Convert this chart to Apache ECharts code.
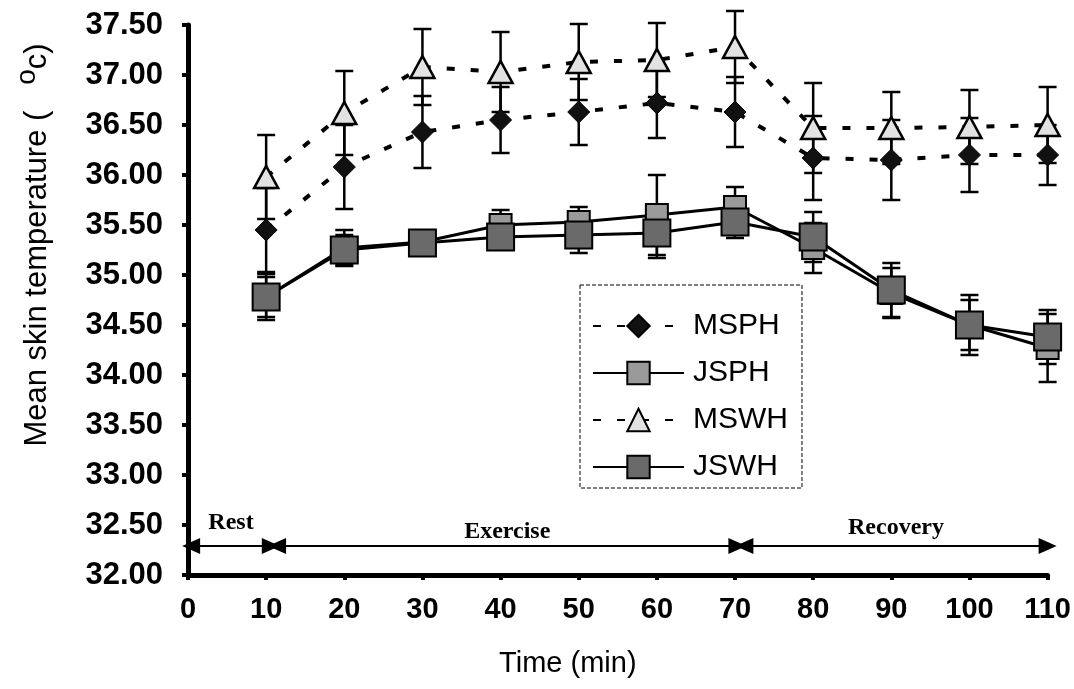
<!DOCTYPE html>
<html><head><meta charset="utf-8">
<script src="https://cdn.jsdelivr.net/npm/echarts@6/dist/echarts.min.js"></script>
<style>html,body{margin:0;padding:0;background:#fff}#c{width:1074px;height:689px}</style>
</head><body><div id="c"></div>
<script>
// ---- data ----
const times = [10, 20, 30, 40, 50, 60, 70, 80, 90, 100, 110];
const msph = [35.45, 36.08, 36.43, 36.55, 36.63, 36.72, 36.63, 36.17, 36.15, 36.20, 36.20];
const msphErr = [0.42, 0.42, 0.36, 0.33, 0.33, 0.35, 0.35, 0.42, 0.40, 0.37, 0.30];
const jsph = [34.78, 35.27, 35.33, 35.50, 35.53, 35.60, 35.68, 35.27, 34.82, 34.50, 34.27];
const jsphErr = [0.23, 0.18, 0.08, 0.15, 0.15, 0.40, 0.20, 0.25, 0.25, 0.25, 0.34];
const mswh = [35.98, 36.62, 37.08, 37.03, 37.13, 37.15, 37.28, 36.47, 36.47, 36.48, 36.50];
const mswhErr = [0.42, 0.42, 0.38, 0.40, 0.38, 0.37, 0.36, 0.45, 0.36, 0.37, 0.38];
const jswh = [34.78, 35.25, 35.32, 35.38, 35.40, 35.42, 35.53, 35.38, 34.85, 34.50, 34.38];
const jswhErr = [0.20, 0.15, 0.08, 0.12, 0.18, 0.25, 0.16, 0.25, 0.27, 0.30, 0.27];
const seriesNames = ['MSPH', 'JSPH', 'MSWH', 'JSWH'];
const phaseNames = ['Rest', 'Exercise', 'Recovery'];
const phaseStart = [0.4, 11.4, 71.2];
const phaseEnd = [10.6, 70.3, 110];
const phaseY = 32.29;
const yMin = 32, yMax = 37.5, yStep = 0.5;
const xMin = 0, xMax = 110, xStep = 10;

// ---- chart ----
const chart = echarts.init(document.getElementById('c'), null, {renderer: 'canvas'});
function pts(vals) { return times.map((t, i) => [t, vals[i]]); }
function errSeries(vals, errs) {
  return {
    type: 'custom', z: 1, silent: true,
    data: times.map((t, i) => [t, vals[i] - errs[i], vals[i] + errs[i]]),
    encode: {x: 0, y: [1, 2]},
    renderItem(params, api) {
      const x = api.value(0);
      const lo = api.coord([x, api.value(1)]);
      const hi = api.coord([x, api.value(2)]);
      const w = 9;
      const style = {stroke: '#000', lineWidth: 2.5, fill: null};
      return {type: 'group', children: [
        {type: 'line', shape: {x1: lo[0], y1: lo[1], x2: hi[0], y2: hi[1]}, style},
        {type: 'line', shape: {x1: lo[0] - w, y1: lo[1], x2: lo[0] + w, y2: lo[1]}, style},
        {type: 'line', shape: {x1: hi[0] - w, y1: hi[1], x2: hi[0] + w, y2: hi[1]}, style}
      ]};
    }
  };
}
const dash = [8, 16];
const labelLift = [11, 2, 6];
const option = {
  backgroundColor: '#fff',
  animation: false,
  grid: {left: 188, right: 25, top: 25, bottom: 114},
  legend: {
    data: seriesNames,
    orient: 'vertical',
    left: 580, top: 285,
    padding: [26, 14, 6, 12],
    itemWidth: 91, itemHeight: 28, itemGap: 17,
    borderColor: '#000', borderWidth: 1, borderType: 'dashed',
    textStyle: {fontSize: 30, fontFamily: 'Liberation Sans', color: '#000', padding: [0, 0, 0, 4]}
  },
  xAxis: {
    type: 'value', min: xMin, max: xMax, interval: xStep,
    name: 'Time (min)', nameLocation: 'middle', nameGap: 74,
    nameTextStyle: {fontSize: 29, fontFamily: 'Liberation Sans', color: '#000', padding: [0, 100, 0, 0]},
    axisLine: {show: true, lineStyle: {color: '#000', width: 5}},
    axisTick: {show: true, length: 5, lineStyle: {color: '#000', width: 4}},
    axisLabel: {fontSize: 29, fontWeight: 'bold', fontFamily: 'Liberation Sans', color: '#000', margin: 20},
    splitLine: {show: false}
  },
  yAxis: {
    type: 'value', min: yMin, max: yMax, interval: yStep, offset: 9,
    name: 'Mean skin temperature (   {s|o}c)', nameLocation: 'middle', nameGap: 118, nameRotate: 90,
    nameTextStyle: {fontSize: 31, fontFamily: 'Liberation Sans', color: '#000', padding: [0, 0, 0, 110],
      rich: {s: {fontSize: 28, fontFamily: 'Liberation Sans', color: '#000', padding: [0, 0, 20, 0]}}},
    axisLine: {show: true, lineStyle: {color: '#000', width: 5}},
    axisTick: {show: true, length: 6, lineStyle: {color: '#000', width: 4}},
    axisLabel: {fontSize: 31, fontWeight: 'bold', fontFamily: 'Liberation Sans', color: '#000', margin: 16,
      formatter: v => v.toFixed(2)},
    splitLine: {show: false}
  },
  series: [
    errSeries(msph, msphErr), errSeries(jsph, jsphErr), errSeries(mswh, mswhErr), errSeries(jswh, jswhErr),
    {name: 'MSPH', type: 'line', z: 3, data: pts(msph), symbol: 'diamond', symbolSize: 22,
      lineStyle: {color: '#000', width: 4, type: dash},
      itemStyle: {color: '#111', borderColor: '#000', borderWidth: 1}},
    {name: 'JSPH', type: 'line', z: 4, data: pts(jsph), symbol: 'rect', symbolSize: 22,
      lineStyle: {color: '#000', width: 3, type: 'solid'},
      itemStyle: {color: '#9a9a9a', borderColor: '#000', borderWidth: 2}},
    {name: 'MSWH', type: 'line', z: 3, data: pts(mswh), symbol: 'triangle', symbolSize: [24, 22],
      lineStyle: {color: '#000', width: 4, type: dash},
      itemStyle: {color: '#e2e2e2', borderColor: '#000', borderWidth: 2.5}},
    {name: 'JSWH', type: 'line', z: 5, data: pts(jswh), symbol: 'rect', symbolSize: 27,
      lineStyle: {color: '#000', width: 3, type: 'solid'},
      itemStyle: {color: '#6a6a6a', borderColor: '#000', borderWidth: 2}},
    {type: 'line', data: [], silent: true,
      markLine: {
        silent: true, animation: false,
        symbol: ['triangle', 'triangle'], symbolSize: [16, 18],
        lineStyle: {color: '#000', width: 2, type: 'solid'},
        label: {show: true, position: 'insideMiddleTop', distance: 8, formatter: p => p.name,
          fontFamily: 'Liberation Serif', fontWeight: 'bold', fontSize: 24, color: '#000'},
        data: phaseNames.map((n, i) => [
          {name: n, coord: [phaseStart[i], phaseY], label: {distance: labelLift[i]}},
          {coord: [phaseEnd[i], phaseY]}
        ])
      }}
  ]
};
chart.setOption(option);
</script></body></html>
